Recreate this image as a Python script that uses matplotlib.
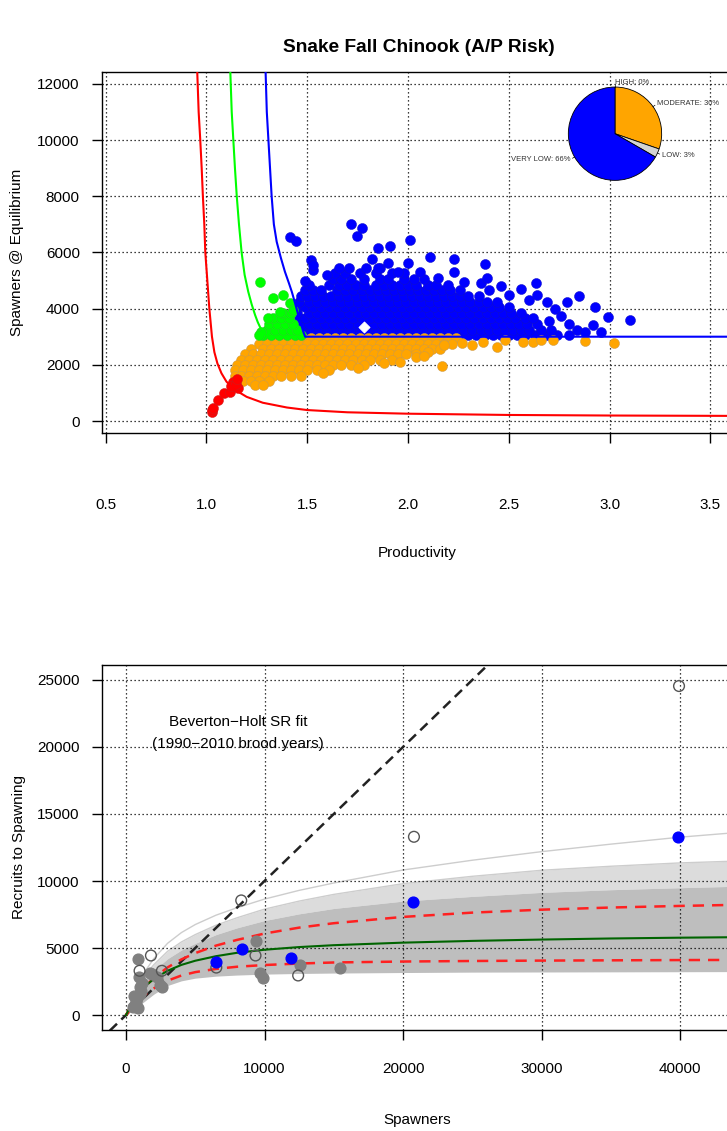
import numpy as np
import matplotlib
matplotlib.use("Agg")
import matplotlib.pyplot as plt

plt.rcParams["font.family"] = ["Liberation Sans", "DejaVu Sans"]

# ---------------------------------------------------------------- top panel data
# risk-boundary curves (productivity, spawners at equilibrium)
high_curve_x = [0.955, 0.962, 0.97, 0.977, 0.983, 0.99, 0.995, 1.005, 1.015, 1.028, 1.04, 1.055,
                1.075, 1.10, 1.14, 1.20, 1.28, 1.40, 1.50, 1.70, 2.00, 2.50, 3.00, 3.70]
high_curve_y = [12430, 11000, 10000, 9000, 8000, 7000, 6000, 5000, 4000, 3000, 2450, 2050,
                1700, 1400, 1120, 860, 650, 480, 390, 310, 260, 215, 195, 180]
low_curve_x = [1.119, 1.126, 1.134, 1.142, 1.151, 1.162, 1.175, 1.19, 1.208, 1.225, 1.242, 1.255,
               1.266, 1.28, 1.295, 1.31, 1.49]
low_curve_y = [12430, 11000, 10000, 9000, 8000, 7000, 6000, 5200, 4600, 4150, 3770, 3520,
               3350, 3180, 3060, 3000, 3000]
vlow_curve_x = [1.294, 1.300, 1.308, 1.316, 1.324, 1.335, 1.349, 1.37, 1.39, 1.41, 1.424, 1.44,
                1.455, 1.47, 1.48, 1.49, 3.70]
vlow_curve_y = [12430, 11000, 10000, 9000, 8000, 7000, 6380, 5800, 5310, 4900, 4600, 4200,
                3800, 3450, 3200, 3000, 3000]

# simulated (productivity, abundance) pairs, grouped by risk class
vlow_row_y = [3060, 3250, 3450, 3650, 3850, 4050, 4250, 4450, 4650, 4850, 5050, 5250, 5430]
vlow_row_x = [
    [1.50, 1.54, 1.58, 1.62, 1.66, 1.70, 1.74, 1.78, 1.82, 1.86, 1.90, 1.94, 1.98, 2.02, 2.06, 2.10,
     2.14, 2.18, 2.22, 2.26, 2.30, 2.34, 2.38, 2.42, 2.46, 2.50, 2.54, 2.58, 2.63, 2.69, 2.74, 2.80],
    [1.48, 1.52, 1.56, 1.60, 1.64, 1.68, 1.72, 1.76, 1.80, 1.84, 1.88, 1.92, 1.96, 2.00, 2.04, 2.08,
     2.12, 2.16, 2.20, 2.24, 2.28, 2.32, 2.36, 2.40, 2.44, 2.48, 2.52, 2.56, 2.60, 2.66, 2.71],
    [1.47, 1.51, 1.55, 1.59, 1.63, 1.67, 1.71, 1.75, 1.79, 1.83, 1.87, 1.91, 1.95, 1.99, 2.03, 2.07,
     2.11, 2.15, 2.19, 2.23, 2.27, 2.31, 2.35, 2.39, 2.43, 2.47, 2.51, 2.55, 2.59, 2.64],
    [1.46, 1.49, 1.53, 1.57, 1.61, 1.65, 1.69, 1.73, 1.77, 1.81, 1.85, 1.89, 1.93, 1.97, 2.01, 2.05,
     2.09, 2.13, 2.17, 2.21, 2.25, 2.29, 2.33, 2.37, 2.41, 2.45, 2.49, 2.53, 2.58, 2.62],
    [1.45, 1.51, 1.55, 1.59, 1.63, 1.67, 1.71, 1.75, 1.79, 1.83, 1.87, 1.91, 1.95, 1.99, 2.03, 2.07,
     2.11, 2.15, 2.19, 2.23, 2.27, 2.31, 2.35, 2.39, 2.43, 2.47, 2.51, 2.56],
    [1.45, 1.49, 1.53, 1.57, 1.61, 1.65, 1.69, 1.73, 1.77, 1.81, 1.85, 1.89, 1.93, 1.97, 2.01, 2.05,
     2.09, 2.13, 2.17, 2.21, 2.25, 2.29, 2.33, 2.37, 2.41, 2.45, 2.50],
    [1.46, 1.51, 1.55, 1.59, 1.63, 1.67, 1.71, 1.75, 1.79, 1.83, 1.87, 1.91, 1.95, 1.99, 2.03, 2.07,
     2.11, 2.15, 2.19, 2.23, 2.27, 2.31, 2.35, 2.39, 2.44],
    [1.47, 1.50, 1.54, 1.58, 1.62, 1.66, 1.70, 1.74, 1.78, 1.82, 1.86, 1.90, 1.94, 1.98, 2.02, 2.06,
     2.10, 2.14, 2.18, 2.22, 2.26, 2.30, 2.35],
    [1.49, 1.53, 1.57, 1.65, 1.69, 1.73, 1.77, 1.81, 1.85, 1.89, 1.93, 1.97, 2.01, 2.05, 2.09, 2.13,
     2.17, 2.21, 2.26],
    [1.51, 1.61, 1.66, 1.70, 1.74, 1.78, 1.84, 1.88, 1.92, 1.96, 2.00, 2.04, 2.10, 2.14, 2.20],
    [1.63, 1.67, 1.72, 1.78, 1.86, 1.90, 1.98, 2.03, 2.08],
    [1.64, 1.69, 1.76, 1.84, 1.92, 1.98],
    [1.66, 1.71, 1.79, 1.86],
]
vlow_extra_x = [2.60, 2.64, 2.56, 2.50, 2.46, 2.40, 2.36, 2.635, 2.69, 2.73, 2.76, 2.70, 2.80, 2.84,
                2.88, 2.79, 2.85, 2.93, 2.99, 3.10, 2.92, 2.96,
                1.415, 1.445, 1.72, 1.77, 1.745, 1.85, 1.91, 2.01, 1.82, 2.11, 2.23, 2.23, 2.38,
                2.39, 1.52, 1.53, 1.53, 2.00, 1.90, 1.85, 1.60, 2.06, 2.15, 2.28, 1.95, 1.49]
vlow_extra_y = [4300, 4500, 4700, 4500, 4800, 4650, 4900, 4920, 4250, 4000, 3750, 3550, 3450, 3250,
                3150, 4230, 4440, 4060, 3690, 3580, 3400, 3150,
                6560, 6420, 7010, 6860, 6590, 6150, 6230, 6440, 5750, 5825, 5750, 5310, 5590,
                5080, 5730, 5370, 5550, 5610, 5610, 5430, 5200, 5300, 5100, 4950, 5300, 5000]

mod_row_y = [2940, 2750, 2560, 2370, 2180, 1990, 1800, 1610, 1430, 1290]
mod_row_x = [
    [1.28, 1.32, 1.36, 1.40, 1.44, 1.48, 1.52, 1.56, 1.60, 1.64, 1.68, 1.72, 1.76, 1.80, 1.84, 1.88,
     1.92, 1.96, 2.00, 2.04, 2.08, 2.12, 2.16, 2.20, 2.24],
    [1.26, 1.30, 1.34, 1.38, 1.42, 1.46, 1.50, 1.54, 1.58, 1.62, 1.66, 1.70, 1.74, 1.78, 1.82, 1.86,
     1.90, 1.94, 1.98, 2.02, 2.06, 2.10, 2.14, 2.18, 2.22],
    [1.22, 1.28, 1.32, 1.36, 1.40, 1.44, 1.48, 1.52, 1.56, 1.60, 1.64, 1.68, 1.72, 1.76, 1.80, 1.84,
     1.88, 1.92, 1.96, 2.00, 2.04, 2.08, 2.12, 2.16],
    [1.19, 1.23, 1.27, 1.31, 1.35, 1.39, 1.43, 1.47, 1.51, 1.55, 1.59, 1.63, 1.67, 1.71, 1.75, 1.79,
     1.83, 1.87, 1.91, 1.95, 1.99, 2.04],
    [1.17, 1.21, 1.25, 1.29, 1.33, 1.37, 1.41, 1.45, 1.49, 1.53, 1.57, 1.61, 1.65, 1.69, 1.73, 1.77,
     1.81, 1.86, 1.92],
    [1.15, 1.19, 1.23, 1.27, 1.31, 1.35, 1.39, 1.43, 1.47, 1.51, 1.55, 1.59, 1.63, 1.67, 1.72, 1.78],
    [1.14, 1.18, 1.22, 1.26, 1.30, 1.34, 1.38, 1.42, 1.46, 1.50, 1.55, 1.61],
    [1.14, 1.17, 1.21, 1.25, 1.29, 1.33, 1.37, 1.42, 1.47],
    [1.18, 1.22, 1.26, 1.31],
    [1.24, 1.28],
]
mod_extra_x = [2.04, 2.17, 2.18, 2.10, 2.27, 2.32, 2.37, 2.44, 2.48, 2.57, 2.62, 2.66, 2.72, 2.88,
               3.02, 1.58, 1.75, 2.08, 1.96, 1.88]
mod_extra_y = [2290, 1950, 2700, 2450, 2780, 2700, 2800, 2630, 2870, 2820, 2800, 2900, 2880, 2850,
               2780, 1700, 1900, 2300, 2100, 2050]

low_row_y = [3060, 3250, 3450, 3650, 3850]
low_row_x = [
    [1.28, 1.32, 1.36, 1.40, 1.44, 1.47],
    [1.30, 1.34, 1.38, 1.42, 1.45],
    [1.31, 1.35, 1.39, 1.43],
    [1.33, 1.37, 1.41],
    [1.38, 1.42],
]
low_extra_x = [1.266, 1.332, 1.382, 1.308, 1.366, 1.415, 1.43, 1.27, 1.26]
low_extra_y = [4940, 4370, 4480, 3655, 3890, 4190, 3950, 3150, 3050]

high_pts_x = [1.03, 1.027, 1.035, 1.06, 1.09, 1.117, 1.134, 1.159, 1.12, 1.145, 1.15]
high_pts_y = [330, 390, 470, 750, 990, 1040, 1400, 1160, 1250, 1300, 1500]

median_x = [1.78]
median_y = [3360]

# risk summary for the inset pie
risk_labels = ["HIGH: 0%", "MODERATE: 30%", "LOW: 3%", "VERY LOW: 66%"]
risk_pct = [0, 30, 3, 66]
risk_colors = ["#FF0000", "#FFA500", "#D3D3D3", "#0000FF"]

prod_ticks = [0.5, 1.0, 1.5, 2.0, 2.5, 3.0, 3.5]
prod_ticklabels = ["0.5", "1.0", "1.5", "2.0", "2.5", "3.0", "3.5"]
abund_ticks = [0, 2000, 4000, 6000, 8000, 10000, 12000]

# ------------------------------------------------------------- bottom panel data
spawners_grid = [0, 500, 1000, 1500, 2000, 3000, 4000, 5000, 6500, 8000, 10000, 12500, 15000,
                 20000, 25000, 30000, 35000, 40000, 44500]
bh_band_low = [0, 350, 750, 1150, 1550, 2200, 2550, 2750, 2900, 2980, 3050, 3100, 3130, 3170,
               3200, 3210, 3220, 3230, 3240]
bh_band_high = [0, 1150, 2050, 2750, 3300, 4200, 4850, 5350, 6000, 6500, 7050, 7550, 7950, 8500,
                8850, 9150, 9350, 9500, 9620]
bh_light_high = [0, 1300, 2300, 3100, 3750, 4750, 5450, 6000, 6700, 7250, 7900, 8500, 9000, 9800,
                 10350, 10800, 11100, 11350, 11500]
bh_top_curve = [0, 1400, 2550, 3450, 4200, 5350, 6150, 6750, 7450, 8000, 8650, 9300, 9850, 10820,
                11550, 12190, 12750, 13270, 13650]
bh_median = [0, 1000, 1720, 2260, 2680, 3300, 3740, 4050, 4390, 4640, 4870, 5070, 5210, 5400,
             5530, 5630, 5710, 5770, 5810]
bh_upper = [0, 900, 1650, 2250, 2750, 3550, 4150, 4620, 5180, 5600, 6080, 6520, 6850, 7320, 7640,
            7860, 8020, 8140, 8230]
bh_lower = [0, 650, 1180, 1620, 1980, 2560, 2950, 3200, 3440, 3600, 3730, 3840, 3920, 3990, 4030,
            4060, 4080, 4100, 4110]
replacement_x = [-2000, 30000]
replacement_y = [-2000, 30000]

obs_grey_s = [888, 960, 1856, 1011, 773, 650, 888, 527, 1133, 2578, 2217, 9386, 9675, 9914,
              12563, 15451, 2455, 1733, 700, 1000, 600, 1100]
obs_grey_r = [4180, 2860, 3040, 2110, 1250, 750, 500, 620, 2370, 2110, 2860, 5520, 3110, 2740,
              3730, 3490, 2240, 3110, 1000, 1600, 1400, 1800]
obs_open_s = [39930, 20790, 8320, 9350, 6520, 12430, 1800, 2590, 980]
obs_open_r = [24550, 13300, 8550, 4440, 3540, 2950, 4440, 3300, 3300]
obs_blue_s = [6500, 8375, 11928, 20736, 39856]
obs_blue_r = [3980, 4900, 4280, 8460, 13261]

spawn_ticks = [0, 10000, 20000, 30000, 40000]
recruit_ticks = [0, 5000, 10000, 15000, 20000, 25000]

# ------------------------------------------------------------------ figure
W, H = 727, 1131
fig = plt.figure(figsize=(W / 100, H / 100), dpi=100)


def frame(left, top, right, bottom):
    return [left / W, 1 - bottom / H, (right - left) / W, (bottom - top) / H]


def flatten(rows_y, rows_x, extra_x, extra_y):
    xs, ys = [], []
    for y, row in zip(rows_y, rows_x):
        xs.extend(row)
        ys.extend([y] * len(row))
    return xs + list(extra_x), ys + list(extra_y)


def style_axes(ax, xpad, ypad):
    ax.tick_params(direction="out", length=7, width=1, labelsize=11, colors="black")
    ax.tick_params(axis="x", pad=xpad)
    ax.tick_params(axis="y", pad=ypad)
    for sp in ax.spines.values():
        sp.set_linewidth(1.0)
    ax.grid(True, color="black", linestyle=(0, (1, 2.2)), linewidth=0.9)


# ---- top: equilibrium abundance vs productivity
ax1 = fig.add_axes(frame(102, 72, 740, 433))
ax1.set_xlim(0.4826, 3.647)
ax1.set_ylim(-427, 12420)
ax1.set_axisbelow(True)
style_axes(ax1, 40, 9)
ax1.set_xticks(prod_ticks)
ax1.set_xticklabels(prod_ticklabels)
ax1.set_yticks(abund_ticks)

dot = dict(s=52, linewidths=0.35, zorder=3)
bx, by = flatten(vlow_row_y, vlow_row_x, vlow_extra_x, vlow_extra_y)
ax1.scatter(bx, by, c="#0000FF", edgecolors="#1010C8", **dot)
ox, oy = flatten(mod_row_y, mod_row_x, mod_extra_x, mod_extra_y)
ax1.scatter(ox, oy, c="#FFA500", edgecolors="#C89A50", **dot)
gx, gy = flatten(low_row_y, low_row_x, low_extra_x, low_extra_y)
ax1.scatter(gx, gy, c="#00FF00", edgecolors="#30C830", **dot)
ax1.scatter(high_pts_x, high_pts_y, c="#FF0000", edgecolors="#C82020", **dot)

ax1.plot(high_curve_x, high_curve_y, color="#FF0000", lw=1.5, zorder=4)
ax1.plot(low_curve_x, low_curve_y, color="#00FF00", lw=1.5, zorder=4)
ax1.plot(vlow_curve_x, vlow_curve_y, color="#0000FF", lw=1.5, zorder=4)
ax1.scatter(median_x, median_y, marker="D", s=30, c="white", edgecolors="white",
            linewidths=0.8, zorder=5)

# inset pie of risk shares, clockwise from 12 o'clock with labels outside the rim
axp = fig.add_axes(frame(545, 63.7, 685, 203.7))
wedges, texts = axp.pie(risk_pct, colors=risk_colors, labels=risk_labels, startangle=90,
                        counterclock=False, labeldistance=1.1,
                        wedgeprops=dict(edgecolor="black", linewidth=0.6),
                        textprops=dict(fontsize=5.5, color="#333333"))
texts[0].set_horizontalalignment("left")
for w in wedges:
    mid = np.deg2rad((w.theta1 + w.theta2) / 2)
    axp.plot([np.cos(mid), 1.05 * np.cos(mid)], [np.sin(mid), 1.05 * np.sin(mid)],
             color="black", lw=0.5)
axp.set_xlim(-1.5, 1.5)
axp.set_ylim(-1.5, 1.5)
axp.set_aspect("equal")
axp.axis("off")

fig.text(419 / W, 1 - 47 / H, "Snake Fall Chinook (A/P Risk)", ha="center", va="center",
         fontsize=13.8, fontweight="bold")
fig.text(417 / W, 1 - 553 / H, "Productivity", ha="center", va="center", fontsize=11)
fig.text(17.5 / W, 1 - 252 / H, "Spawners @ Equilibrium", ha="center", va="center",
         rotation=90, fontsize=11)

# ---- bottom: Beverton-Holt stock-recruit fits
ax2 = fig.add_axes(frame(102, 665, 740, 1030))
ax2.set_xlim(-1733, 44332)
ax2.set_ylim(-1119, 26119)
style_axes(ax2, 16, 9)
ax2.set_xticks(spawn_ticks)
ax2.set_yticks(recruit_ticks)

ax2.fill_between(spawners_grid, bh_band_high, bh_light_high, color="#DCDCDC", lw=0, zorder=1)
ax2.fill_between(spawners_grid, bh_band_low, bh_band_high, color="#BEBEBE", lw=0, zorder=1)
ax2.plot(spawners_grid, bh_light_high, color="#CDCDCD", lw=1.0, zorder=1.2)
ax2.plot(spawners_grid, bh_top_curve, color="#CDCDCD", lw=1.0, zorder=1.2)

ax2.plot(replacement_x, replacement_y, color="#222222", lw=1.8, dashes=(4, 2.4), zorder=2.5)
ax2.plot(spawners_grid, bh_upper, color="#FF2020", lw=1.8, dashes=(4.5, 3.2), zorder=2.6)
ax2.plot(spawners_grid, bh_lower, color="#FF2020", lw=1.8, dashes=(4.5, 3.2), zorder=2.6)
ax2.plot(spawners_grid, bh_median, color="#006400", lw=1.5, zorder=2.7)

ax2.scatter(obs_grey_s, obs_grey_r, s=60, c="#808080", edgecolors="#808080", zorder=3)
ax2.scatter(obs_open_s, obs_open_r, s=60, facecolors="none", edgecolors="#555555",
            linewidths=1.0, zorder=3)
ax2.scatter(obs_blue_s, obs_blue_r, s=60, c="#0000FF", edgecolors="#0000FF", zorder=3.2)

ax2.text(8087, 21888, "Beverton\u2212Holt SR fit", ha="center", va="center", fontsize=11,
         zorder=1)
ax2.text(8087, 20220, "(1990\u22122010 brood years)", ha="center", va="center", fontsize=11,
         zorder=1)

fig.text(417 / W, 1 - 1120 / H, "Spawners", ha="center", va="center", fontsize=11)
fig.text(19 / W, 1 - 847 / H, "Recruits to Spawning", ha="center", va="center",
         rotation=90, fontsize=11)

fig.savefig("out.png", dpi=100)
